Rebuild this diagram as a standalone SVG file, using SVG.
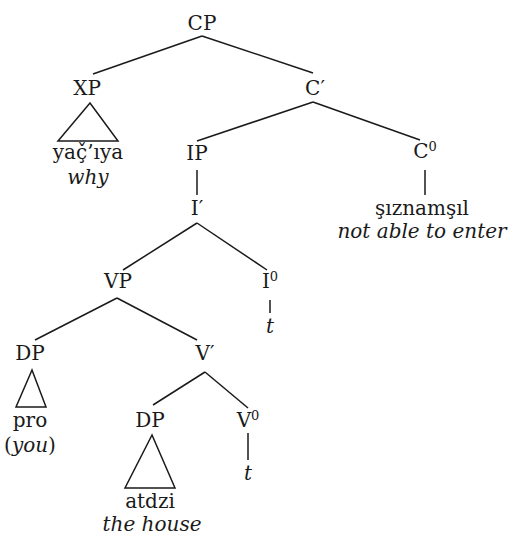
<svg xmlns="http://www.w3.org/2000/svg" width="509" height="537" viewBox="0 0 509 537">
<style>
text{font-family:"DejaVu Serif","Liberation Serif",serif;font-size:20px;fill:#1a1a1a;text-anchor:middle}
.it{font-style:italic}
.sup{font-size:13px}
.e{stroke:#1a1a1a;stroke-width:1.5;fill:none}
</style>
<rect width="509" height="537" fill="#fff"/>
<g id="connectors" class="e">
<line x1="202" y1="36" x2="93" y2="74"/>
<line x1="202" y1="36" x2="313" y2="73"/>
<line x1="313" y1="102" x2="197" y2="141"/>
<line x1="313" y1="102" x2="420" y2="140"/>
<line x1="197" y1="170" x2="197" y2="195"/>
<line x1="425" y1="170" x2="425" y2="195"/>
<line x1="197" y1="223" x2="123" y2="270"/>
<line x1="197" y1="223" x2="267" y2="270"/>
<line x1="270" y1="300" x2="270" y2="313"/>
<line x1="117" y1="298" x2="35" y2="340"/>
<line x1="117" y1="298" x2="197" y2="340"/>
<line x1="205" y1="372" x2="153" y2="405"/>
<line x1="205" y1="372" x2="248" y2="408"/>
<line x1="248" y1="433" x2="248" y2="460"/>
<polygon points="90,103 58,141 118,141"/>
<polygon points="32,370 16,407 46,407"/>
<polygon points="152,435 125,488 175,488"/>
</g>
<g id="CP"><text x="202" y="30">CP</text></g>
<g id="XP"><text x="87" y="95">XP</text></g>
<g id="Cbar"><text x="315" y="95">C′</text></g>
<g id="XP-word"><text x="88" y="159">yaç̌’ıya</text><text class="it" x="88" y="184">why</text></g>
<g id="IP"><text x="197" y="160">IP</text></g>
<g id="C0"><text x="425" y="158">C<tspan class="sup" dy="-7">0</tspan></text></g>
<g id="C0-word"><text x="422" y="215">şıznamşıl</text><text class="it" x="422" y="238">not able to enter</text></g>
<g id="Ibar"><text x="197" y="215">I′</text></g>
<g id="VP"><text x="118" y="288">VP</text></g>
<g id="I0"><text x="270" y="288">I<tspan class="sup" dy="-7">0</tspan></text></g>
<g id="I0-t"><text class="it" x="270" y="333">t</text></g>
<g id="DP1"><text x="30" y="360">DP</text></g>
<g id="Vbar"><text x="205" y="360">V′</text></g>
<g id="DP1-word"><text x="30" y="427">pro</text><text x="30" y="452">(<tspan class="it">you</tspan>)</text></g>
<g id="DP2"><text x="150" y="427">DP</text></g>
<g id="V0"><text x="248" y="427">V<tspan class="sup" dy="-7">0</tspan></text></g>
<g id="V0-t"><text class="it" x="248" y="480">t</text></g>
<g id="DP2-word"><text x="150" y="508">atdzi</text><text class="it" x="152" y="531">the house</text></g>
</svg>
